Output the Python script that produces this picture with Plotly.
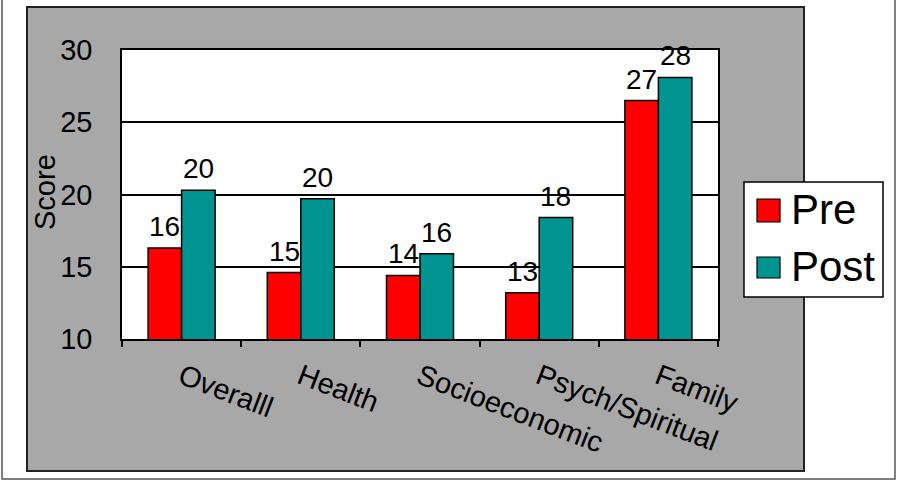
import plotly.graph_objects as go

categories = ["Overalll", "Health", "Socioeconomic", "Psych/Spiritual", "Family"]
pre_values = [16.3, 14.6, 14.4, 13.2, 26.5]
post_values = [20.3, 19.7, 15.9, 18.4, 28.1]
series_names = ["Pre", "Post"]
y_ticks = [10, 15, 20, 25, 30]

RED = "#FF0000"
TEAL = "#009490"
GRAY = "#A8A8A8"
FONT = "Liberation Sans, Arial, sans-serif"

# plot area in pixels
L, T, W, H = 122, 50, 596, 289
FIG_W, FIG_H = 900, 486


def px(x):
    return (x - L) / W


def py(y):
    return (T + H - y) / H


BARGAP = 0.438

fig = go.Figure()
for name, vals, col in [(series_names[0], pre_values, RED), (series_names[1], post_values, TEAL)]:
    fig.add_trace(go.Bar(
        x=categories, y=vals, name=name,
        marker=dict(color=col, line=dict(color="black", width=1.5)),
        showlegend=False,
    ))

# data labels
bw = (1 - BARGAP) / 2
annotations = []
for k, vals in enumerate([pre_values, post_values]):
    off = -bw / 2 if k == 0 else bw / 2
    for i, v in enumerate(vals):
        annotations.append(dict(
            x=i + off, y=v, xref="x", yref="y", text=str(int(v + 0.5)),
            showarrow=False, yanchor="bottom", xanchor="center", yshift=4,
            font=dict(size=28, color="black", family=FONT),
        ))

# y-axis title
annotations.append(dict(
    x=px(45), y=py(192), xref="paper", yref="paper", text="Score", textangle=-90,
    showarrow=False, xanchor="center", yanchor="middle",
    font=dict(size=29, color="black", family=FONT),
))

# manual legend text
annotations.append(dict(x=px(789), y=py(209), xref="paper", yref="paper", text=series_names[0],
                        showarrow=False, xanchor="left", yanchor="middle",
                        font=dict(size=42, color="black", family=FONT)))
annotations.append(dict(x=px(789), y=py(266), xref="paper", yref="paper", text=series_names[1],
                        showarrow=False, xanchor="left", yanchor="middle",
                        font=dict(size=42, color="black", family=FONT)))

shapes = [
    # outer white frame
    dict(type="rect", xref="paper", yref="paper", x0=px(2), x1=px(895), y0=py(479), y1=py(-3),
         line=dict(color="#555555", width=1.5), fillcolor="white", layer="below"),
    # gray chart area
    dict(type="rect", xref="paper", yref="paper", x0=px(27), x1=px(804), y0=py(471), y1=py(7),
         line=dict(color="#222222", width=2), fillcolor=GRAY, layer="below"),
    # white plot area
    dict(type="rect", xref="paper", yref="paper", x0=0, x1=1, y0=0, y1=1,
         line=dict(width=0), fillcolor="white", layer="below"),
    # legend box
    dict(type="rect", xref="paper", yref="paper", x0=px(744), x1=px(883), y0=py(297), y1=py(182),
         line=dict(color="black", width=1.5), fillcolor="white", layer="above"),
    dict(type="rect", xref="paper", yref="paper", x0=px(757), x1=px(780), y0=py(222), y1=py(199),
         line=dict(color="black", width=1.2), fillcolor=RED, layer="above"),
    dict(type="rect", xref="paper", yref="paper", x0=px(757), x1=px(780), y0=py(278), y1=py(257),
         line=dict(color="black", width=1.2), fillcolor=TEAL, layer="above"),
]

fig.update_layout(
    width=FIG_W, height=FIG_H,
    margin=dict(l=L, r=FIG_W - L - W, t=T, b=FIG_H - T - H, autoexpand=False),
    paper_bgcolor="white", plot_bgcolor="white",
    barmode="group", bargap=BARGAP, bargroupgap=0,
    font=dict(family=FONT, color="black"),
    showlegend=False,
    annotations=annotations, shapes=shapes,
)
fig.update_xaxes(
    type="category", showline=True, linecolor="black", linewidth=1.5, mirror=True,
    ticks="outside", tickson="boundaries", ticklen=6, tickcolor="black", tickwidth=1.5,
    tickangle=21, tickfont=dict(size=29, family=FONT, color="black"),
    ticklabelstandoff=8, showgrid=False, automargin=False,
)
fig.update_yaxes(
    range=[10, 30], tickvals=y_ticks, showline=True, linecolor="black", linewidth=1.5, mirror=True,
    showgrid=True, gridcolor="black", gridwidth=1.5, zeroline=False,
    ticks="", tickfont=dict(size=29, family=FONT, color="black"),
    ticklabelstandoff=22, automargin=False,
)

fig.write_html("out.html")
